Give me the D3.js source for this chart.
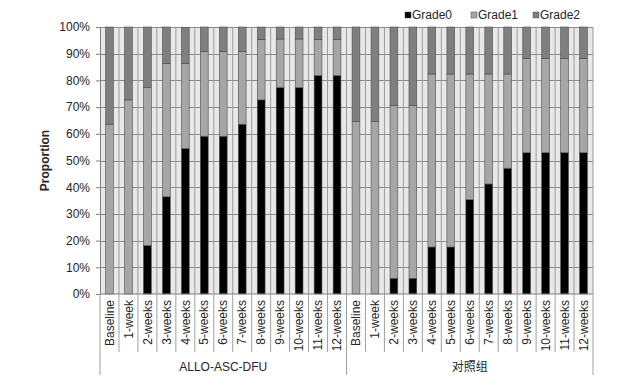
<!DOCTYPE html>
<html>
<head>
<meta charset="utf-8">
<script src="https://cdn.jsdelivr.net/npm/d3@7"></script>
<style>
body { margin: 0; background: #fff; }
text { font-family: "Liberation Sans", Arial, sans-serif; fill: #262626; }
</style>
</head>
<body>
<svg id="chart" width="643" height="391"></svg>
<script>
// data (percent of patients per wound grade)
var groups = ["ALLO-ASC-DFU", "对照组"];
var timepoints = ["Baseline", "1-week", "2-weeks", "3-weeks", "4-weeks", "5-weeks", "6-weeks",
                  "7-weeks", "8-weeks", "9-weeks", "10-weeks", "11-weeks", "12-weeks"];
var seriesNames = ["Grade0", "Grade1", "Grade2"];

var alloGrade0 = [0, 0, 18.2, 36.4, 54.5, 59.1, 59.1, 63.6, 72.7, 77.3, 77.3, 81.8, 81.8];
var alloGrade1 = [63.6, 72.7, 59.1, 50.0, 31.8, 31.8, 31.8, 27.3, 22.7, 18.2, 18.2, 13.6, 13.6];
var alloGrade2 = [36.4, 27.3, 22.7, 13.6, 13.6, 9.1, 9.1, 9.1, 4.6, 4.5, 4.5, 4.6, 4.6];

var ctrlGrade0 = [0, 0, 5.9, 5.9, 17.6, 17.6, 35.3, 41.2, 47.1, 52.9, 52.9, 52.9, 52.9];
var ctrlGrade1 = [64.7, 64.7, 64.7, 64.7, 64.8, 64.8, 47.1, 41.2, 35.3, 35.3, 35.3, 35.3, 35.3];
var ctrlGrade2 = [35.3, 35.3, 29.4, 29.4, 17.6, 17.6, 17.6, 17.6, 17.6, 11.8, 11.8, 11.8, 11.8];

var yTicks = [0, 10, 20, 30, 40, 50, 60, 70, 80, 90, 100];

var svg = d3.select("svg#chart"),
    margin = {top: 27, right: 50, bottom: 97, left: 100},
    width = +svg.attr("width") - margin.left - margin.right,
    height = +svg.attr("height") - margin.top - margin.bottom,
    g = svg.append("g").attr("transform", "translate(" + margin.left + "," + margin.top + ")");

var color = d3.scaleOrdinal()
    .domain(seriesNames)
    .range(["#000000", "#a6a6a6", "#7f7f7f"]);

var rows = [];
[[alloGrade0, alloGrade1, alloGrade2], [ctrlGrade0, ctrlGrade1, ctrlGrade2]].forEach(function(s, gi) {
  timepoints.forEach(function(t, i) {
    rows.push({key: groups[gi] + "|" + t, group: groups[gi], time: t,
               Grade0: s[0][i], Grade1: s[1][i], Grade2: s[2][i]});
  });
});
var keys = rows.map(function(d) { return d.key; });

// one cell per category, bars sit in the middle of their cell
var cell = d3.scaleBand().domain(keys).range([0, width]);
var x = d3.scaleBand().domain(keys).range([0, width])
    .paddingInner(0.59).paddingOuter(0.295);
var y = d3.scaleLinear().domain([0, 100]).range([height, 0]);

// plot area
g.append("rect")
    .attr("width", width)
    .attr("height", height)
    .attr("fill", "#e8e8e8");

g.append("g")
  .selectAll("line")
  .data(yTicks.slice(1))
  .enter().append("line")
    .attr("x1", 0).attr("x2", width)
    .attr("y1", function(d) { return Math.round(y(d)) + 0.5; })
    .attr("y2", function(d) { return Math.round(y(d)) + 0.5; })
    .attr("stroke", "#8c8c8c");

g.append("g")
  .selectAll("line")
  .data(keys.slice(1).concat(["end"]))
  .enter().append("line")
    .attr("x1", function(d) { return d === "end" ? width : cell(d); })
    .attr("x2", function(d) { return d === "end" ? width : cell(d); })
    .attr("y1", 0).attr("y2", height)
    .attr("stroke", "#9a9a9a");

// stacked bars
g.append("g")
  .selectAll("g")
  .data(d3.stack().keys(seriesNames)(rows))
  .enter().append("g")
    .attr("fill", function(d) { return color(d.key); })
  .selectAll("rect")
  .data(function(d) { return d; })
  .enter().append("rect")
    .attr("x", function(d) { return x(d.data.key); })
    .attr("y", function(d) { return y(d[1]); })
    .attr("height", function(d) { return y(d[0]) - y(d[1]); })
    .attr("width", x.bandwidth())
    .attr("stroke", "#4d4d4d")
    .attr("stroke-width", 0.6);

// y axis
var yAxis = g.append("g")
    .call(d3.axisLeft(y).tickValues(yTicks).tickSize(4).tickPadding(6)
      .tickFormat(function(d) { return d + "%"; }));
yAxis.select(".domain").attr("stroke", "#7f7f7f");
yAxis.selectAll(".tick line").attr("stroke", "#7f7f7f");
yAxis.selectAll("text").attr("font-size", 12).attr("font-family", null);

// x axis: category row then group row
var xa = g.append("g").attr("transform", "translate(0," + height + ")");
xa.append("line")
    .attr("x1", 0).attr("x2", width)
    .attr("stroke", "#7f7f7f");

xa.selectAll(".sep")
  .data(keys.slice(1))
  .enter().append("line")
    .attr("class", "sep")
    .attr("x1", function(d) { return cell(d); })
    .attr("x2", function(d) { return cell(d); })
    .attr("y1", 0)
    .attr("y2", function(d) { return d.split("|")[1] === "Baseline" ? 81 : 58; })
    .attr("stroke", "#a0a0a0");

xa.selectAll(".edge")
  .data([0, width])
  .enter().append("line")
    .attr("class", "edge")
    .attr("x1", function(d) { return d; })
    .attr("x2", function(d) { return d; })
    .attr("y1", 0).attr("y2", 81)
    .attr("stroke", "#a0a0a0");

xa.selectAll(".lab")
  .data(rows)
  .enter().append("text")
    .attr("class", "lab")
    .attr("transform", function(d) {
      return "translate(" + (x(d.key) + x.bandwidth() / 2) + ",6) rotate(-90)";
    })
    .attr("dy", "0.35em")
    .attr("text-anchor", "end")
    .attr("font-size", 12)
    .text(function(d) { return d.time; });

xa.selectAll(".grp")
  .data(groups)
  .enter().append("text")
    .attr("class", "grp")
    .attr("x", function(d, i) { return width / 4 + i * width / 2; })
    .attr("y", 77)
    .attr("text-anchor", "middle")
    .attr("font-size", 12)
    .style("font-family", function(d, i) { return i ? "'Noto Sans CJK SC', sans-serif" : null; })
    .text(function(d) { return d; });

// y title
svg.append("text")
    .attr("transform", "translate(49," + (margin.top + height / 2) + ") rotate(-90)")
    .attr("text-anchor", "middle")
    .attr("font-size", 12)
    .attr("font-weight", "bold")
    .text("Proportion");

// legend
var legend = svg.append("g")
    .selectAll("g")
    .data(seriesNames)
    .enter().append("g")
      .attr("transform", function(d, i) { return "translate(" + [405, 471, 533][i] + ",0)"; });

legend.append("rect")
    .attr("y", 12)
    .attr("width", 6)
    .attr("height", 6)
    .attr("fill", function(d) { return color(d); })
    .attr("stroke", "#4d4d4d")
    .attr("stroke-width", 0.5);

legend.append("text")
    .attr("x", 7)
    .attr("y", 19)
    .attr("font-size", 12)
    .text(function(d) { return d; });
</script>
</body>
</html>
